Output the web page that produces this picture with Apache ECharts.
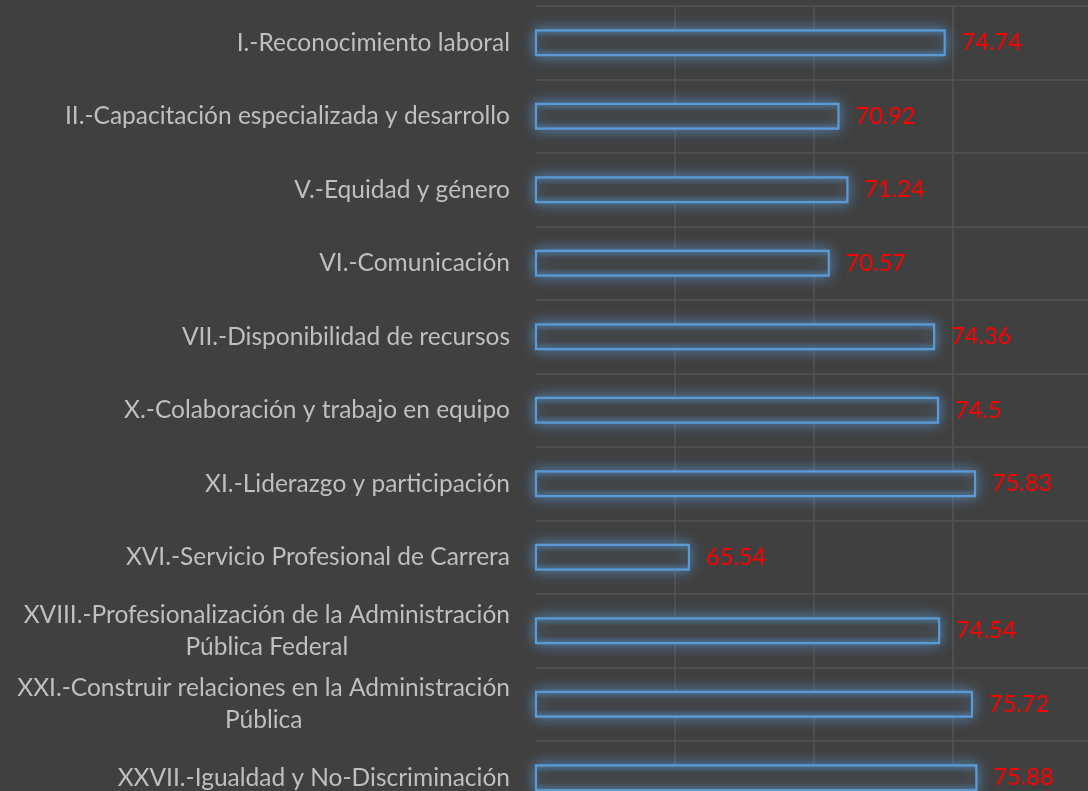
<!DOCTYPE html>
<html>
<head>
<meta charset="utf-8">
<script src="https://cdn.jsdelivr.net/npm/echarts@6/dist/echarts.min.js"></script>
<style>
  html, body { margin: 0; padding: 0; background: #404040; overflow: hidden; }
  /* chart surface runs slightly past the window on the right and bottom */
  #chart { width: 1092px; height: 815px; }
</style>
</head>
<body>
<div id="chart"></div>
<script>
// Dimension names (top to bottom); "\n" marks where a long name wraps
const categories = [
  'I.-Reconocimiento laboral',
  'II.-Capacitación especializada y desarrollo',
  'V.-Equidad y género',
  'VI.-Comunicación',
  'VII.-Disponibilidad de recursos',
  'X.-Colaboración y trabajo en equipo',
  'XI.-Liderazgo y participación',
  'XVI.-Servicio Profesional de Carrera',
  'XVIII.-Profesionalización de la Administración\nPública Federal',
  'XXI.-Construir relaciones en la Administración\nPública',
  'XXVII.-Igualdad y No-Discriminación'
];

// Score per dimension
const scores = [74.74, 70.92, 71.24, 70.57, 74.36, 74.5, 75.83, 65.54, 74.54, 75.72, 75.88];

// Value axis range
const axisMin = 60;
const axisMax = 80;
const axisStep = 5;

const FONT = 'Lato, "Open Sans", sans-serif';
const GRID_COLOR = '#535353';
const chart = echarts.init(document.getElementById('chart'));

chart.setOption({
  backgroundColor: '#404040',
  animation: false,
  grid: { left: 536, right: 0, top: 6, bottom: 0.5, containLabel: false },
  xAxis: {
    type: 'value',
    min: axisMin,
    max: axisMax,
    interval: axisStep,
    axisLine: { show: false },
    axisTick: { show: false },
    axisLabel: { show: false },
    splitLine: { show: true, showMinLine: false, lineStyle: { color: GRID_COLOR, width: 1.5 } }
  },
  yAxis: {
    type: 'category',
    inverse: true,
    data: categories,
    axisLine: { show: false },
    axisTick: { show: false },
    splitLine: { show: true, lineStyle: { color: GRID_COLOR, width: 1.5 } },
    axisLabel: {
      margin: 26,
      align: 'right',
      color: '#bfbfbf',
      fontFamily: FONT,
      fontSize: 24.5,
      lineHeight: 32,
      formatter: function (v) {
        return v.split('\n').map(function (l) { return '{c|' + l + '}'; }).join('\n');
      },
      rich: {
        c: { align: 'center', color: '#bfbfbf', fontFamily: FONT, fontSize: 24.5, lineHeight: 32 }
      }
    }
  },
  series: [{
    type: 'bar',
    data: scores,
    barWidth: 27,
    itemStyle: {
      color: {
        type: 'linear', x: 0, y: 0, x2: 0, y2: 1,
        colorStops: [
          { offset: 0, color: 'rgba(78,112,146,1)' },
          { offset: 0.3, color: '#424242' },
          { offset: 0.7, color: '#424242' },
          { offset: 1, color: 'rgba(78,112,146,1)' }
        ]
      },
      borderColor: '#5b9bd5',
      borderWidth: 2.2,
      shadowBlur: 14,
      shadowColor: 'rgba(91,155,213,0.75)'
    },
    label: {
      show: true,
      position: 'right',
      distance: 16,
      color: '#ff0000',
      fontFamily: FONT,
      fontSize: 23.5,
      formatter: function (p) { return String(p.value); }
    }
  }]
});
</script>
</body>
</html>
